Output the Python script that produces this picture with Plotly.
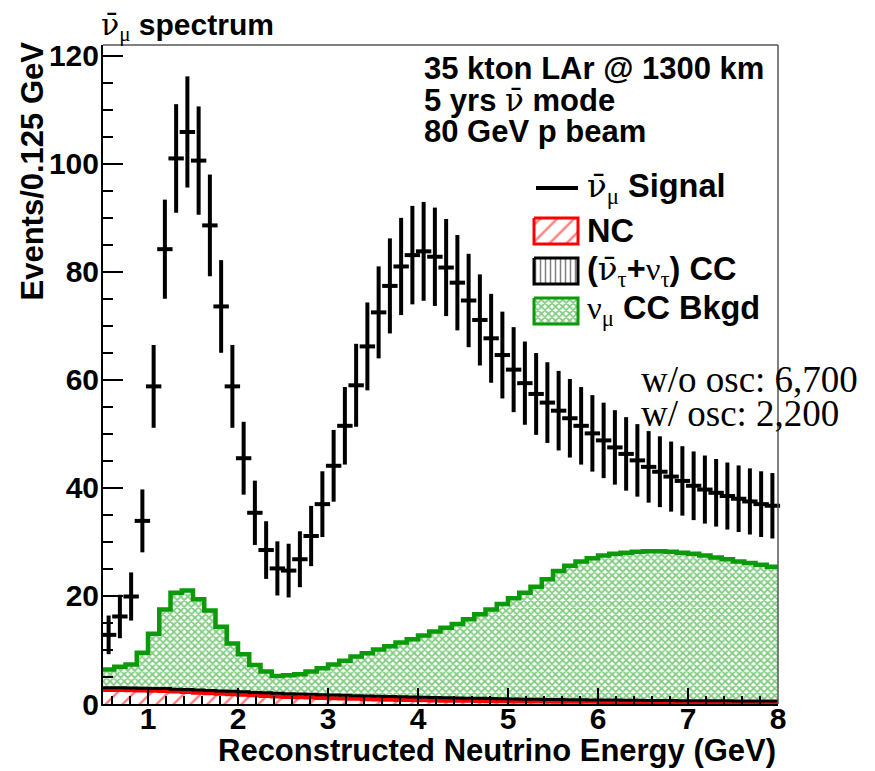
import numpy as np
import plotly.graph_objects as go

# Binning: 60 bins of 0.125 GeV between 0.5 and 8 GeV
e_min = 0.5
bin_width = 0.125
n_bins = 60

# Anti-numu signal (events per bin, data points with Poisson errors)
signal = [12.8, 16.2, 19.9, 33.9, 58.8, 84.2, 101.0, 105.9, 100.6, 88.6,
          73.6, 58.8, 45.5, 35.4, 28.5, 25.1, 24.7, 26.8, 31.1, 37.0,
          44.1, 51.5, 59.0, 66.2, 72.5, 77.4, 81.0, 83.1, 83.8, 82.8,
          80.8, 78.0, 74.7, 71.1, 67.7, 64.6, 61.9, 59.4, 57.4, 55.8,
          54.3, 52.9, 51.5, 50.1, 48.8, 47.5, 46.3, 45.1, 43.9, 43.0,
          42.1, 41.3, 40.4, 39.7, 39.1, 38.5, 38.0, 37.5, 37.0, 36.7]

# Backgrounds (stacked)
nc = [2.6, 2.6, 2.55, 2.5, 2.45, 2.4, 2.3, 2.2, 2.1, 2.0,
      1.9, 1.8, 1.7, 1.6, 1.5, 1.4, 1.3, 1.25, 1.2, 1.1,
      1.05, 1.0, 0.95, 0.9, 0.85, 0.8, 0.75, 0.72, 0.7, 0.66,
      0.62, 0.6, 0.58, 0.55, 0.52, 0.5, 0.48, 0.46, 0.45, 0.44,
      0.43, 0.42, 0.41, 0.4, 0.39, 0.38, 0.37, 0.36, 0.35, 0.35,
      0.34, 0.33, 0.33, 0.32, 0.32, 0.31, 0.31, 0.3, 0.3, 0.3]

nutau_cc = [0.4, 0.4, 0.4, 0.4, 0.4, 0.45, 0.45, 0.5, 0.5, 0.5,
            0.5, 0.55, 0.55, 0.55, 0.6, 0.6, 0.6, 0.6, 0.6, 0.6,
            0.6, 0.6, 0.6, 0.6, 0.6, 0.6, 0.6, 0.58, 0.56, 0.55,
            0.54, 0.52, 0.5, 0.5, 0.48, 0.46, 0.45, 0.44, 0.42, 0.4,
            0.4, 0.38, 0.37, 0.36, 0.35, 0.34, 0.33, 0.32, 0.31, 0.3,
            0.3, 0.29, 0.28, 0.28, 0.27, 0.27, 0.26, 0.26, 0.25, 0.25]

numu_cc = [3.4, 3.9, 4.35, 6.6, 10.15, 14.65, 17.85, 18.3, 16.8, 14.8,
           11.9, 8.85, 6.95, 5.05, 3.9, 3.2, 3.4, 3.65, 4.2, 4.9,
           5.65, 6.4, 7.25, 7.9, 8.65, 9.3, 10.05, 10.7, 11.44, 12.19,
           12.94, 13.68, 14.62, 15.55, 16.5, 17.54, 18.67, 19.7, 20.83, 22.26,
           23.77, 24.8, 25.62, 26.24, 26.76, 27.08, 27.3, 27.52, 27.64, 27.65,
           27.56, 27.38, 27.19, 26.9, 26.51, 26.22, 25.83, 25.54, 25.25, 24.85]

# Colours
verde = '#0a9a0a'
vermelho = '#ff0000'

edges = e_min + bin_width * np.arange(n_bins + 1)
centers = edges[:-1] + bin_width / 2

# Stack cumulative heights
stack_nc = np.array(nc)
stack_tau = stack_nc + np.array(nutau_cc)
stack_numu = stack_tau + np.array(numu_cc)


def step(vals):
    # repeat last value so the 'hv' step closes at the last bin edge
    return np.append(vals, vals[-1])


pat_nc = dict(shape='/', fgcolor=vermelho, bgcolor='white', size=12, solidity=0.2)
pat_tau = dict(shape='|', fgcolor='black', bgcolor='white', size=5, solidity=0.3)
pat_numu = dict(shape='x', fgcolor=verde, bgcolor='white', size=5, solidity=0.6)

fig = go.Figure()

fig.add_trace(go.Scatter(
    x=edges, y=step(stack_nc), mode='lines', line_shape='hv',
    line=dict(color=vermelho, width=4), fill='tozeroy', fillcolor='white',
    fillpattern=pat_nc, hoverinfo='skip'
))
fig.add_trace(go.Scatter(
    x=edges, y=step(stack_tau), mode='lines', line_shape='hv',
    line=dict(color='black', width=3), fill='tonexty', fillcolor='white',
    fillpattern=pat_tau, hoverinfo='skip'
))
fig.add_trace(go.Scatter(
    x=edges, y=step(stack_numu), mode='lines', line_shape='hv',
    line=dict(color=verde, width=4.5), fill='tonexty', fillcolor='white',
    fillpattern=pat_numu, hoverinfo='skip'
))

# Signal points with sqrt(N) error bars
fig.add_trace(go.Scatter(
    x=centers, y=signal, mode='markers',
    marker=dict(symbol='line-ew', size=11, color='black', line=dict(width=4, color='black')),
    error_y=dict(type='data', array=np.sqrt(signal), thickness=4, width=0, color='black'),
    cliponaxis=False
))

# ---- layout in window pixels (page body adds an 8px offset) ----
OFF = 8
W, H = 875 - OFF, 771 - OFF
L, R, T, B = 103, 778, 45, 704   # plot frame, window pixels


def px(xw):
    return (xw - L) / (R - L)


def py(yw):
    return (B - yw) / (B - T)


def serif(s):
    return f'<span style="font-family:Liberation Serif">{s}</span>'


def nubar_serif(sub=''):
    return f'<span style="font-family:DejaVu Serif">\u03bd\u0304</span>' + (serif(f'<sub>{sub}</sub>') if sub else '')


# Legend swatches (layout only)
sw_x0, sw_x1 = 534, 578
for yc, col, pat in [(231, vermelho, pat_nc), (271, 'black', pat_tau), (311, verde, pat_numu)]:
    y0, y1 = yc - 13, yc + 13
    fig.add_trace(go.Scatter(
        x=[sw_x0, sw_x1, sw_x1, sw_x0, sw_x0], y=[y0, y0, y1, y1, y0],
        mode='lines', fill='toself', fillcolor='white', fillpattern=pat,
        line=dict(color=col, width=3), xaxis='x2', yaxis='y2', hoverinfo='skip'
    ))
fig.add_shape(type='line', xref='x2', yref='y2', x0=536, x1=578, y0=188, y1=188,
              line=dict(color='black', width=4))

legend_txt = [
    (188, nubar_serif('μ') + '<b> Signal</b>'),
    (231, '<b>NC</b>'),
    (271, '<b>(</b>' + nubar_serif('τ') + '<b>+</b>' + serif('ν<sub>τ</sub>') + '<b>) CC</b>'),
    (310, serif('ν<sub>μ</sub>') + '<b> CC Bkgd</b>'),
]
for yc, txt in legend_txt:
    fig.add_annotation(x=585, y=yc, xref='x2', yref='y2', text=txt, showarrow=False,
                       xanchor='left', yanchor='middle',
                       font=dict(family='Liberation Sans', size=32.5, color='black'))

info_txt = [
    (68, '<b>35 kton LAr @ 1300 km</b>'),
    (100, '<b>5 yrs </b>' + nubar_serif() + '<b> mode</b>'),
    (131, '<b>80 GeV p beam</b>'),
]
for yc, txt in info_txt:
    fig.add_annotation(x=422, y=yc, xref='x2', yref='y2', text=txt, showarrow=False,
                       xanchor='left', yanchor='middle',
                       font=dict(family='Liberation Sans', size=31, color='black'))

for yc, txt in [(379, 'w/o osc: 6,700'), (413, 'w/ osc: 2,200')]:
    fig.add_annotation(x=639, y=yc, xref='x2', yref='y2', text=txt, showarrow=False,
                       xanchor='left', yanchor='middle',
                       font=dict(family='Liberation Serif', size=37, color='black'))

# Title
fig.add_annotation(x=px(99), y=py(26), xref='paper', yref='paper',
                   text=nubar_serif('μ') + '<b> spectrum</b>',
                   showarrow=False, xanchor='left', yanchor='middle',
                   font=dict(family='Liberation Sans', size=30, color='black'))

# Axis titles (ROOT style: aligned to the axis end)
fig.add_annotation(x=px(778), y=py(750), xref='paper', yref='paper',
                   text='<b>Reconstructed Neutrino Energy (GeV)</b>',
                   showarrow=False, xanchor='right', yanchor='middle',
                   font=dict(family='Liberation Sans', size=31, color='black'))
fig.add_annotation(x=px(32), y=py(40), xref='paper', yref='paper', textangle=-90,
                   text='<b>Events/0.125 GeV</b>',
                   showarrow=False, xanchor='center', yanchor='top',
                   font=dict(family='Liberation Sans', size=31, color='black'))

# Frame top/right
fig.add_shape(type='line', xref='paper', yref='paper', x0=0, x1=1, y0=1, y1=1,
              line=dict(color='#555555', width=1.5))
fig.add_shape(type='line', xref='paper', yref='paper', x0=1, x1=1, y0=0, y1=1,
              line=dict(color='#555555', width=1.5))

fig.update_layout(
    width=W, height=H,
    margin=dict(l=L - OFF, r=W - (R - OFF), t=T - OFF, b=H - (B - OFF)),
    paper_bgcolor='white', plot_bgcolor='white',
    showlegend=False,
    font=dict(family='Liberation Sans', color='black'),
    xaxis=dict(
        range=[e_min, e_min + bin_width * n_bins],
        tickmode='linear', tick0=1, dtick=1,
        ticks='inside', ticklen=16, tickwidth=2, tickcolor='black',
        ticklabelstandoff=-13,
        showline=True, linewidth=2, linecolor='black',
        showgrid=False, zeroline=False,
        tickfont=dict(family='Liberation Sans', size=30, weight='bold', color='black'),
        minor=dict(ticks='inside', ticklen=8, tickwidth=1.5, tickcolor='black',
                   dtick=0.2, tick0=0, showgrid=False)
    ),
    yaxis=dict(
        range=[0, 122],
        tickmode='linear', tick0=0, dtick=20,
        ticks='inside', ticklen=20, tickwidth=2, tickcolor='black',
        ticklabelstandoff=-4,
        showline=True, linewidth=2, linecolor='black',
        showgrid=False, zeroline=False,
        tickfont=dict(family='Liberation Sans', size=30, weight='bold', color='black'),
        minor=dict(ticks='inside', ticklen=10, tickwidth=1.5, tickcolor='black',
                   dtick=5, tick0=0, showgrid=False)
    ),
    xaxis2=dict(range=[L, R], overlaying='x', anchor='y2', visible=False, fixedrange=True),
    yaxis2=dict(range=[B, T], overlaying='y', anchor='x2', visible=False, fixedrange=True),
)

fig.write_html("out.html")
